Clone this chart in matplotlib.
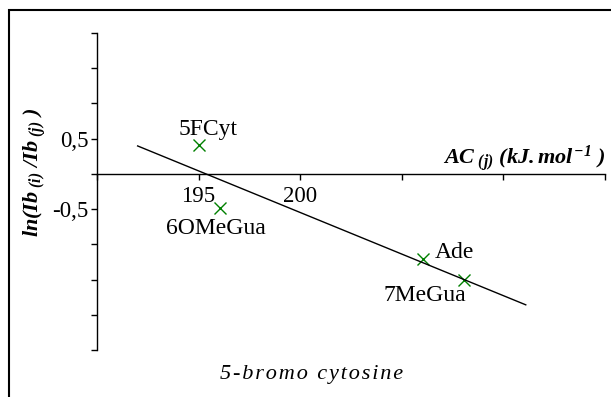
import numpy as np
import matplotlib
matplotlib.use("Agg")
import matplotlib.pyplot as plt
from matplotlib.patches import Rectangle

plt.rcParams['font.family'] = ['Liberation Serif', 'DejaVu Serif']
plt.rcParams['mathtext.fontset'] = 'custom'
plt.rcParams['mathtext.rm'] = 'Liberation Serif:bold:italic'
plt.rcParams['mathtext.it'] = 'Liberation Serif:bold:italic'
plt.rcParams['mathtext.bf'] = 'Liberation Serif:bold:italic'

# data
names = ["5FCyt", "6OMeGua", "Ade", "7MeGua"]
ac_j = [195.0, 196.05, 206.05, 208.05]
ln_ratio = [0.41, -0.49, -1.21, -1.51]
fit_range = [192.0, 211.1]

# where each name sits relative to its point (data units)
label_dx = [0.45, -0.2, 1.55, -1.9]
label_dy = [0.22, -0.28, 0.09, -0.21]

xticks = [190, 195, 200, 205, 210, 215]
xticklabels = ["", "195", "200", "", "", ""]
yticks = [-2.5, -2.0, -1.5, -1.0, -0.5, 0.0, 0.5, 1.0, 1.5, 2.0]
yticklabels = ["", "", "", "", "-0,5", "", "0,5", "", "", ""]

fig = plt.figure(figsize=(6.11, 3.97), dpi=100)
ax = fig.add_axes([97 / 611, 47 / 397, 508 / 611, 317 / 397])

ax.plot(ac_j, ln_ratio, "x", color="#008000", markersize=8, markeredgewidth=1.0)

slope, icpt = np.polyfit(ac_j, ln_ratio, 1)
fx = np.array(fit_range)
ax.plot(fx, slope * fx + icpt, color="black", linewidth=1.0)

for n, x, y, dx, dy in zip(names, ac_j, ln_ratio, label_dx, label_dy):
    ax.text(x + dx, y + dy, n, fontsize=17, ha="center", va="center")

ax.set_xlim(190, 215)
ax.set_ylim(-2.5, 2.0)
ax.spines["top"].set_visible(False)
ax.spines["right"].set_visible(False)
ax.spines["bottom"].set_position(("data", 0))
ax.spines["left"].set_linewidth(1.0)
ax.spines["bottom"].set_linewidth(1.0)

ax.set_xticks(xticks)
ax.set_xticklabels(xticklabels)
ax.set_yticks(yticks)
ax.set_yticklabels(yticklabels)
ax.tick_params(axis="both", direction="out", length=4, width=1.0, labelsize=16.5)
ax.tick_params(axis="x", pad=5)
ax.tick_params(axis="y", pad=2)

ax.text(1.0, 0.605, r"$AC_{\ (j)}\ (kJ.mol^{-1}\ )$", transform=ax.transAxes,
        fontsize=16, ha="right", va="center")

fig.text(35 / 611, 1 - 172 / 397, r"$ln(Ib_{\ (i)}\ /Ib_{\ (j)}\ )$", rotation=90,
         fontsize=16, ha="center", va="center")

fig.text(312 / 611, 1 - 375 / 397, "\u200a".join("5-bromo cytosine"), fontsize=16,
         style="italic", ha="center", va="center")

# frame round the picture
fig.patches.append(Rectangle((9 / 611, -0.2), 1.2, 1.2 - 10 / 397,
                             transform=fig.transFigure, fill=False,
                             edgecolor="black", linewidth=1.5))

fig.savefig("out.png", dpi=100)
